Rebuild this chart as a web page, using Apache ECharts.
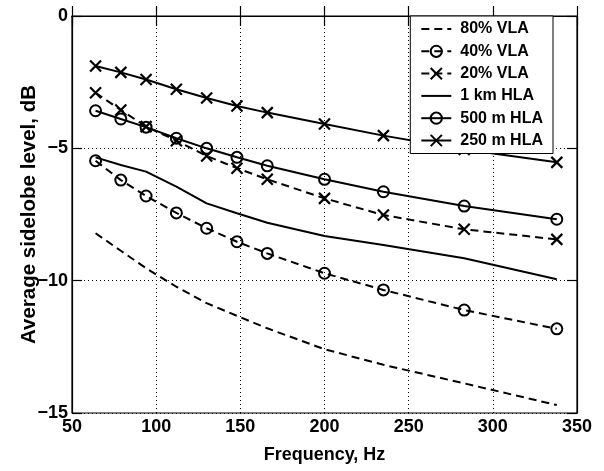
<!DOCTYPE html>
<html style="height: 100%">
<head>
    <meta charset="utf-8">
</head>
<body style="height: 100%; margin: 0; background: #fff">
    <div id="container" style="width: 604px; height: 471px"></div>
    <script src="https://cdn.jsdelivr.net/npm/echarts@6/dist/echarts.min.js"></script>
    <script type="text/javascript">
        // frequencies, Hz
        var freq = [64, 79, 94, 112, 130, 148, 166, 200, 235, 283, 338];
        // average sidelobe level, dB
        var vla80 = [-8.21, -8.87, -9.53, -10.23, -10.85, -11.33, -11.80, -12.59, -13.18, -13.88, -14.70];
        var vla40 = [-5.47, -6.20, -6.80, -7.44, -8.02, -8.53, -8.97, -9.72, -10.35, -11.11, -11.82];
        var vla20 = [-2.90, -3.55, -4.18, -4.71, -5.29, -5.75, -6.17, -6.89, -7.52, -8.06, -8.44];
        var hla1k = [-5.34, -5.63, -5.88, -6.45, -7.08, -7.45, -7.81, -8.31, -8.65, -9.15, -9.95];
        var hla500 = [-3.58, -3.89, -4.20, -4.62, -5.00, -5.34, -5.66, -6.17, -6.64, -7.18, -7.68];
        var hla250 = [-1.89, -2.13, -2.40, -2.77, -3.10, -3.40, -3.65, -4.08, -4.52, -5.04, -5.53];
        var names = ['80% VLA', '40% VLA', '20% VLA', '1 km HLA', '500 m HLA', '250 m HLA'];

        var myChart = echarts.init(document.getElementById('container'));

        var font = '"Liberation Sans", Arial, sans-serif';
        var crossPath = 'path://M0,0L10,10M10,0L0,10';
        var dash = [8, 5];

        function pairs(ys) {
            return freq.map(function (f, i) { return [f, ys[i]]; });
        }

        function mk(name, ys, dashed, symbol) {
            var s = {
                name: name,
                type: 'line',
                data: pairs(ys),
                lineStyle: { color: '#000', width: 2, type: dashed ? dash : 'solid' },
                z: 3
            };
            if (symbol === 'circle') {
                s.symbol = 'circle';
                s.symbolSize = 11;
                s.itemStyle = { color: 'rgba(0,0,0,0)', borderColor: '#000', borderWidth: 2, borderType: 'solid' };
            } else if (symbol === 'cross') {
                s.symbol = crossPath;
                s.symbolSize = 11;
                s.itemStyle = { color: '#000', borderColor: '#000', borderWidth: 2.2, borderType: 'solid' };
            } else {
                // no markers: invisible symbol so the legend only shows the line
                s.symbol = 'circle';
                s.showSymbol = false;
                s.symbolSize = 1;
                s.itemStyle = { color: 'rgba(0,0,0,0)', borderWidth: 0 };
            }
            return s;
        }

        function fmt(v) {
            return v < 0 ? '\u2212' + (-v) : '' + v;
        }

        var tickLabel = { color: '#000', fontFamily: font, fontWeight: 'bold', fontSize: 18 };

        var option = {
            backgroundColor: '#fff',
            animation: false,
            grid: {
                left: 72, right: 27, top: 16, bottom: 58,
                show: true, borderColor: '#000', borderWidth: 1.2, backgroundColor: '#fff'
            },
            legend: {
                data: names,
                orient: 'vertical',
                right: 51,
                top: 16,
                backgroundColor: '#fff',
                borderColor: '#000',
                borderWidth: 1,
                borderRadius: 0,
                padding: [5, 10, 5, 10],
                itemWidth: 30,
                itemHeight: 14,
                itemGap: 6.3,
                selectedMode: false,
                textStyle: { color: '#000', fontFamily: font, fontWeight: 'bold', fontSize: 16, padding: [0, 0, 0, 4] }
            },
            xAxis: [{
                type: 'value',
                min: 50, max: 350, interval: 50,
                name: 'Frequency, Hz',
                nameLocation: 'middle',
                nameGap: 33,
                nameMoveOverlap: false,
                nameTextStyle: { color: '#000', fontFamily: font, fontWeight: 'bold', fontSize: 18 },
                axisLine: { lineStyle: { color: '#000', width: 1.2 } },
                axisTick: { inside: true, length: 10, lineStyle: { color: '#000', width: 1.2 } },
                axisLabel: Object.assign({ margin: 5 }, tickLabel),
                splitLine: { show: true, lineStyle: { color: '#000', type: [1, 3], width: 1 } }
            }, {
                type: 'value', position: 'top',
                min: 50, max: 350, interval: 50,
                axisLine: { show: true, lineStyle: { color: '#000', width: 1.2 } },
                axisTick: { inside: true, length: 10, lineStyle: { color: '#000', width: 1.2 } },
                axisLabel: { show: false },
                splitLine: { show: false }
            }],
            yAxis: [{
                type: 'value',
                min: -15, max: 0, interval: 5,
                name: 'Average sidelobe level, dB',
                nameLocation: 'middle',
                nameGap: 32,
                nameMoveOverlap: false,
                nameTextStyle: { color: '#000', fontFamily: font, fontWeight: 'bold', fontSize: 20.5 },
                axisLine: { show: true, lineStyle: { color: '#000', width: 1.2 } },
                axisTick: { show: true, inside: true, length: 10, lineStyle: { color: '#000', width: 1.2 } },
                axisLabel: Object.assign({ margin: 4, formatter: fmt }, tickLabel),
                splitLine: { show: true, lineStyle: { color: '#000', type: [1, 3], width: 1 } }
            }, {
                type: 'value', position: 'right',
                min: -15, max: 0, interval: 5,
                axisLine: { show: true, lineStyle: { color: '#000', width: 1.2 } },
                axisTick: { show: true, inside: true, length: 10, lineStyle: { color: '#000', width: 1.2 } },
                axisLabel: { show: false },
                splitLine: { show: false }
            }],
            series: [
                mk(names[0], vla80, true, null),
                mk(names[1], vla40, true, 'circle'),
                mk(names[2], vla20, true, 'cross'),
                mk(names[3], hla1k, false, null),
                mk(names[4], hla500, false, 'circle'),
                mk(names[5], hla250, false, 'cross')
            ]
        };

        myChart.setOption(option);
    </script>
</body>
</html>
